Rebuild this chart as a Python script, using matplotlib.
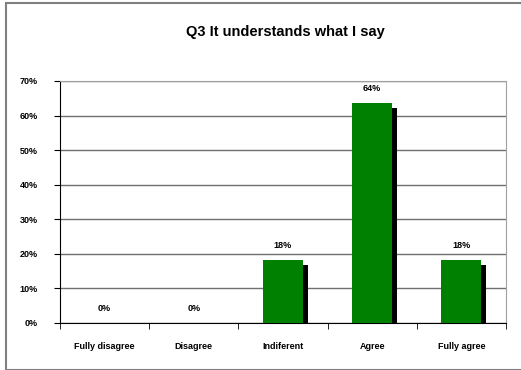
import matplotlib.pyplot as plt
import matplotlib.patheffects as pe
from matplotlib.patches import Rectangle
import numpy as np

categories = ["Fully disagree", "Disagree", "Indiferent", "Agree", "Fully agree"]
values = [0, 0, 18.2, 63.6, 18.2]
yticks = [0, 10, 20, 30, 40, 50, 60, 70]

plt.rcParams['font.family'] = ['Liberation Sans', 'DejaVu Sans']
plt.rcParams['font.weight'] = 'bold'

fig = plt.figure(figsize=(5.21, 3.70), dpi=100)
fig.patches.append(Rectangle((6 / 521, 0.0), 1, 1 - 3 / 370, transform=fig.transFigure,
                             fill=False, edgecolor='#808080', linewidth=1.5))
ax = fig.add_axes([60 / 521, 1 - 323 / 370, 446 / 521, 242 / 370])

x = np.arange(len(categories))
bars = ax.bar(x, values, width=0.45, color='#008000', linewidth=0, zorder=3,
              path_effects=[pe.SimplePatchShadow(offset=(3.5, -3.5), shadow_rgbFace='black', alpha=1),
                            pe.Normal()])

for xi, v in zip(x, values):
    ax.annotate(f"{v:.0f}%", (xi, v), xytext=(0, 7), textcoords='offset points',
                ha='center', va='bottom', fontsize=6.5, fontweight='bold')

ax.set_xlim(-0.5, len(categories) - 0.5)
ax.set_ylim(0, 70)
ax.set_yticks(yticks)
ax.set_yticklabels([f"{t}%" for t in yticks], fontsize=6.5, fontweight='bold')
ax.yaxis.grid(True, color='#707070', linewidth=1)
ax.set_axisbelow(True)

ax.set_xticks(x)
ax.set_xticklabels(categories, fontsize=6.5, fontweight='bold')
ax.tick_params(axis='x', which='major', length=0, pad=14)
ax.set_xticks(np.arange(len(categories) + 1) - 0.5, minor=True)
ax.tick_params(axis='x', which='minor', length=4, color='black', direction='out')
ax.tick_params(axis='y', length=4, color='black', pad=12)

ax.spines['top'].set_color('#a0a0a0')
ax.spines['right'].set_color('#a0a0a0')
ax.spines['left'].set_color('black')
ax.spines['bottom'].set_color('black')

fig.text(285 / 521, 1 - 32 / 370, "Q3 It understands what I say", ha='center', va='center',
         fontsize=10.5, fontweight='bold')

fig.savefig("out.png", dpi=100)
